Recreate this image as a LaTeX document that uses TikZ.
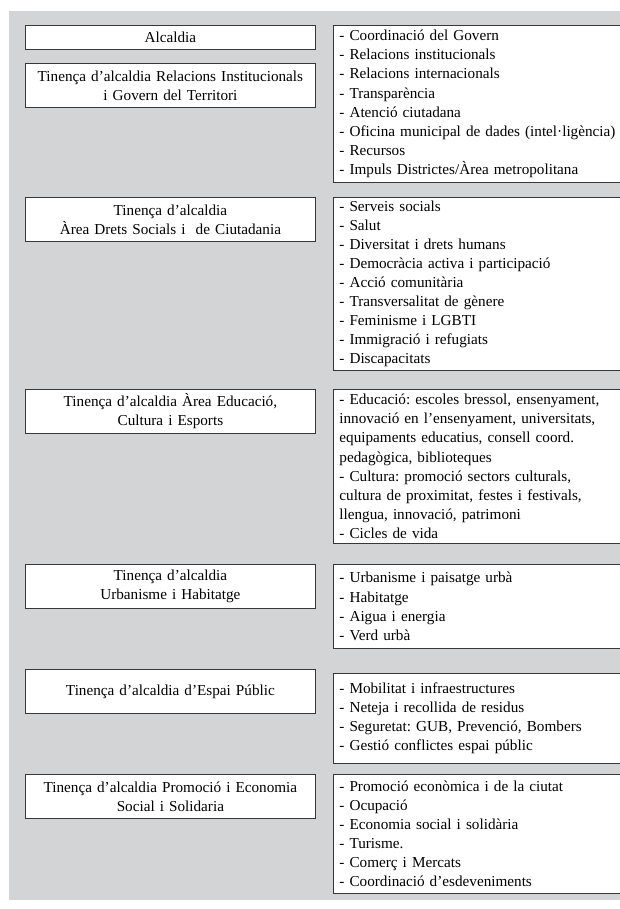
\documentclass[tikz,border=0pt]{standalone}
\usepackage{fontspec}
\setmainfont{Liberation Serif}
\frenchspacing
\definecolor{panelgray}{RGB}{211,212,214}
\definecolor{boxline}{RGB}{55,55,55}

\begin{document}
\begin{tikzpicture}[x=1pt, y=-1pt,
    font=\fontsize{15.2}{19.1}\selectfont,
    tinbox/.style={draw=boxline, line width=0.8pt, fill=white, anchor=north west,
        text width=280pt, align=center, inner xsep=5pt, inner ysep=0pt},
    listbox/.style={draw=boxline, line width=0.8pt, fill=white, anchor=north west,
        text width=282pt, align=left, inner xsep=6pt, inner ysep=0pt}]
    \useasboundingbox (0,0) rectangle (619,909);
    \fill[panelgray] (9,11) rectangle (630,900);

    \node[tinbox, minimum height=24pt] (alcaldia) at (25,25) {Alcaldia};
    \node[tinbox, minimum height=44pt] (relinst) at (25,63) {Tinença d’alcaldia Relacions Institucionals\\i Govern del Territori};
    \node[tinbox, minimum height=44pt] (drets) at (25,197) {Tinença d’alcaldia\\Àrea Drets Socials i~ de Ciutadania};
    \node[tinbox, minimum height=44pt] (educ) at (25,389) {Tinença d’alcaldia Àrea Educació,\\Cultura i Esports};
    \node[tinbox, minimum height=44pt] (urban) at (25,564) {Tinença d’alcaldia\\Urbanisme i Habitatge};
    \node[tinbox, minimum height=44pt] (espai) at (25,669) {Tinença d’alcaldia d’Espai Públic};
    \node[tinbox, minimum height=44pt] (promo) at (25,774) {Tinença d’alcaldia Promoció i Economia\\Social i Solidaria};

    \node[listbox, minimum height=157pt] (relinst-list) at (333,25) {- Coordinació del Govern\\- Relacions institucionals\\- Relacions internacionals\\- Transparència\\- Atenció ciutadana\\- Oficina municipal de dades (intel·ligència)\\- Recursos\\- Impuls Districtes/Àrea metropolitana};
    \node[listbox, minimum height=173pt] (drets-list) at (333,197) {- Serveis socials\\- Salut\\- Diversitat i drets humans\\- Democràcia activa i participació\\- Acció comunitària\\- Transversalitat de gènere\\- Feminisme i LGBTI\\- Immigració i refugiats\\- Discapacitats};
    \node[listbox, minimum height=154pt] (educ-list) at (333,389) {- Educació: escoles bressol, ensenyament,\\innovació en l’ensenyament, universitats,\\equipaments educatius, consell coord.\\pedagògica, biblioteques\\- Cultura: promoció sectors culturals,\\cultura de proximitat, festes i festivals,\\llengua, innovació, patrimoni\\- Cicles de vida};
    \node[listbox, minimum height=84pt] (urban-list) at (333,564) {- Urbanisme i paisatge urbà\\- Habitatge\\- Aigua i energia\\- Verd urbà};
    \node[listbox, minimum height=90pt] (espai-list) at (333,673) {- Mobilitat i infraestructures\\- Neteja i recollida de residus\\- Seguretat: GUB, Prevenció, Bombers\\- Gestió conflictes espai públic};
    \node[listbox, minimum height=119pt] (promo-list) at (333,774) {- Promoció econòmica i de la ciutat\\- Ocupació\\- Economia social i solidària\\- Turisme.\\- Comerç i Mercats\\- Coordinació d’esdeveniments};
\end{tikzpicture}
\end{document}
